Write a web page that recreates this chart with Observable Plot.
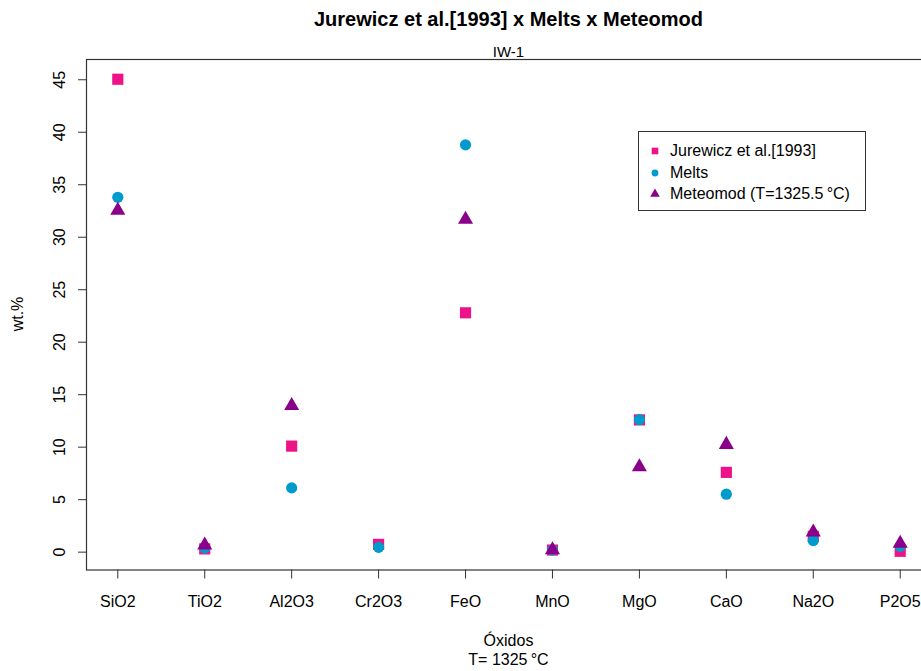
<!DOCTYPE html>
<html><head><meta charset="utf-8">
<script src="https://cdn.jsdelivr.net/npm/d3@7"></script>
<script src="https://cdn.jsdelivr.net/npm/@observablehq/plot@0.6"></script>
<style>
body{margin:0;background:#fff;font-family:"Liberation Sans",Arial,sans-serif;}
#wrap{position:relative;width:921px;height:671px;overflow:hidden;background:#fff}
.t{position:absolute;white-space:nowrap;line-height:1;color:#000}
#legend{position:absolute;left:638px;top:131px;width:228px;height:80px;border:1px solid #333;background:#fff;box-sizing:border-box}
</style></head><body><div id="wrap"></div>
<script>
const oxides = ["SiO2","TiO2","Al2O3","Cr2O3","FeO","MnO","MgO","CaO","Na2O","P2O5"];
const jurewicz = [45.05, 0.31, 10.1, 0.74, 22.8, 0.2, 12.6, 7.6, 1.5, 0.08];
const melts    = [33.8, 0.4, 6.12, 0.46, 38.8, 0.2, 12.62, 5.52, 1.1, 0.55];
const meteomod = [32.55, 0.67, 13.95, null, 31.7, 0.22, 8.11, 10.25, 1.9, 0.84];
const yTicks = [0, 5, 10, 15, 20, 25, 30, 35, 40, 45];
const seriesNames = ["Jurewicz et al.[1993]", "Melts", "Meteomod (T=1325.5\u2009\u00B0C)"];
const seriesColors = ["#EE1289", "#009ACD", "#8B008B"];
const seriesSymbols = ["square", "circle", "triangle"];
const seriesR = [6.3, 5.6, 5.6];
const seriesValues = [jurewicz, melts, meteomod];

const xIdx = oxides.map((_, i) => i + 1);
const tables = seriesValues.map(vals => vals.map((v, i) => ({x: i + 1, y: v, oxide: oxides[i]})).filter(d => d.y != null));

const chart = Plot.plot({
  width: 960,
  height: 671,
  marginTop: 59,
  marginBottom: 101.5,
  marginLeft: 86,
  marginRight: 29,
  style: "max-width:none;font-family:'Liberation Sans',Arial,sans-serif;font-size:16px;background:transparent;color:#000",
  x: {type: "linear", domain: [0.64, 10.36]},
  y: {domain: [-1.7, 46.93]},
  marks: [
    Plot.axisX({ticks: xIdx, tickFormat: i => oxides[i - 1], tickSize: 9, tickPadding: 17, fontSize: 16, label: null, stroke: "#333"}),
    Plot.axisY({ticks: yTicks, tickSize: 8, tickRotate: -90, tickPadding: 14, fontSize: 16, label: null, stroke: "#333"}),
    ...tables.map((t, k) => Plot.dot(t, {x: "x", y: "y", symbol: () => seriesSymbols[k], r: seriesR[k], fill: seriesColors[k], stroke: "none"})),
    Plot.frame({stroke: "#333", strokeWidth: 1.2})
  ]
});
const wrap = document.getElementById("wrap");
wrap.appendChild(chart);
chart.style.position = "absolute";
chart.style.left = "0px";
chart.style.top = "0px";

function addText(txt, css) {
  const d = document.createElement("div");
  d.className = "t";
  d.textContent = txt;
  Object.assign(d.style, css);
  wrap.appendChild(d);
  return d;
}
addText("Jurewicz et al.[1993] x Melts x Meteomod", {left: "0px", width: "1017px", textAlign: "center", top: "9px", fontSize: "20px", fontWeight: "bold"});
addText("IW-1", {left: "0px", width: "1017px", textAlign: "center", top: "44px", fontSize: "15px"});
addText("\u00D3xidos", {left: "0px", width: "1017px", textAlign: "center", top: "633px", fontSize: "16px"});
addText("T= 1325\u2009\u00B0C", {left: "0px", width: "1017px", textAlign: "center", top: "652px", fontSize: "16px"});
addText("wt.%", {left: "18px", top: "314px", fontSize: "16px", transform: "translate(-50%,-50%) rotate(-90deg)"});

const legend = document.createElement("div");
legend.id = "legend";
wrap.appendChild(legend);
const symPaths = {square: d3.symbolSquare, circle: d3.symbolCircle, triangle: d3.symbolTriangle};
const legSize = [44, 36, 40];
seriesNames.forEach((name, k) => {
  const cy = 19 + k * 21.5;
  const svg = d3.create("svg").attr("width", 20).attr("height", 20)
    .style("position", "absolute").style("left", "6px").style("top", (cy - 10) + "px");
  svg.append("path").attr("transform", "translate(10,10)")
    .attr("d", d3.symbol(symPaths[seriesSymbols[k]], legSize[k])())
    .attr("fill", seriesColors[k]);
  legend.appendChild(svg.node());
  const s = document.createElement("div");
  s.className = "t";
  s.textContent = name;
  s.style.left = "31px";
  s.style.top = (cy - 8) + "px";
  s.style.fontSize = "16px";
  legend.appendChild(s);
});
</script></body></html>
